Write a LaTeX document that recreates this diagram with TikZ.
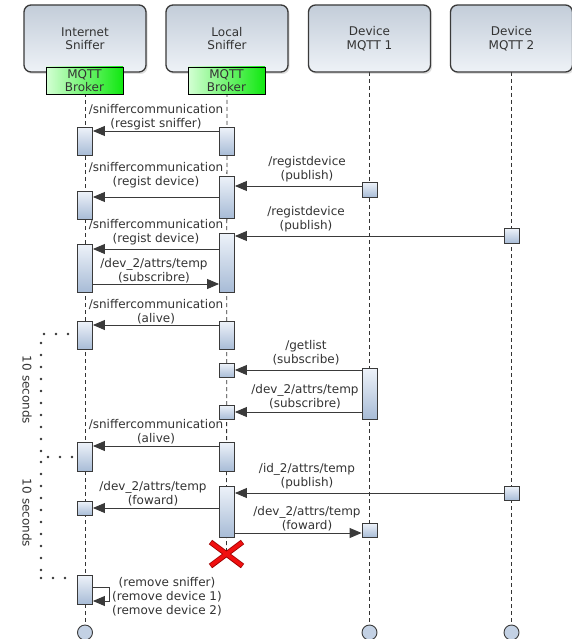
\documentclass[tikz,border=0pt]{standalone}
\usepackage{fontspec}
\setmainfont{DejaVu Sans}
\usetikzlibrary{arrows.meta,shadows}
\definecolor{hdtop}{HTML}{C3CDD9}
\definecolor{hdbot}{HTML}{EEF2F7}
\definecolor{grleft}{HTML}{D4FFD4}
\definecolor{grright}{HTML}{10E810}
\definecolor{acttop}{HTML}{EDF2F9}
\definecolor{actbot}{HTML}{A7BBD6}
\definecolor{ink}{HTML}{333333}
\definecolor{edge}{HTML}{3A3A3A}
\definecolor{killred}{HTML}{F01010}
\definecolor{killdark}{HTML}{A00000}
\tikzset{
  header/.style={draw=edge, line width=1.3pt, rounded corners=7pt,
    top color=hdtop, bottom color=hdbot, minimum width=122pt, minimum height=67pt,
    align=center, font=\fontsize{12}{13.5}\selectfont, text=ink,
    drop shadow={shadow xshift=1.5pt, shadow yshift=-2pt, opacity=0.25}},
  broker/.style={draw=black, line width=0.9pt, left color=grleft, right color=grright,
    minimum width=77pt, minimum height=27pt, inner sep=0pt, align=center,
    font=\fontsize{12}{13.5}\selectfont, text=ink},
  actbox/.style={draw=edge, line width=0.9pt, top color=acttop, bottom color=actbot,
    minimum width=15pt, inner sep=0pt, anchor=north},
  life/.style={draw=ink, line width=0.8pt, dash pattern=on 4pt off 3pt},
  msg/.style={draw=edge, line width=0.9pt, -{Triangle[length=12pt,width=10pt]}},
  lbl/.style={font=\fontsize{12}{14}\selectfont, text=ink, align=center, inner sep=0pt},
  endcirc/.style={circle, draw=edge, line width=0.9pt, fill=acttop!40!actbot, minimum size=15pt, inner sep=0pt},
  dots/.style={draw=ink, line width=2.6pt, line cap=round, dash pattern=on 0pt off 12pt},
}
\begin{document}
\begin{tikzpicture}[x=1pt,y=-1pt]
\useasboundingbox[fill=white] (0,0) rectangle (572,639);

% end circles and lifelines
\node[endcirc] (cI) at (85,632.5) {};
\node[endcirc] (cD1) at (369.5,632.5) {};
\node[endcirc] (cD2) at (511.5,632.5) {};
\coordinate (tI) at (85,72);
\coordinate (tL) at (227,72);
\coordinate (tD1) at (369.5,72);
\coordinate (tD2) at (511.5,72);
\coordinate (kill) at (226.5,554);
\draw[life] (tI) -- (cI.north);
\draw[life] (tL) -- (kill);
\draw[life] (tD1) -- (cD1.north);
\draw[life] (tD2) -- (cD2.north);

% headers
\node[header] (hI) at (85,38.5) {Internet\\Sniffer};
\node[header] (hL) at (227,38.5) {Local\\Sniffer};
\node[header] (hD1) at (369.5,38.5) {Device\\MQTT 1};
\node[header] (hD2) at (511.5,38.5) {Device\\MQTT 2};
\node[broker] (bI) at (84.5,80.5) {MQTT\\Broker};
\node[broker] (bL) at (226.5,80.5) {MQTT\\Broker};

% activation boxes: Internet
\node[actbox, minimum height=28pt] (I1) at (85,127) {};
\node[actbox, minimum height=28pt] (I2) at (85,191) {};
\node[actbox, minimum height=48pt] (I3) at (85,244) {};
\node[actbox, minimum height=28pt] (I4) at (85,321) {};
\node[actbox, minimum height=29pt] (I5) at (85,442) {};
\node[actbox, minimum height=14pt] (I6) at (85,501) {};
\node[actbox, minimum height=29pt] (I7) at (85,575) {};
% Local
\node[actbox, minimum height=28pt] (L1) at (227,127) {};
\node[actbox, minimum height=42pt] (L2) at (227,176) {};
\node[actbox, minimum height=59pt] (L3) at (227,233) {};
\node[actbox, minimum height=28pt] (L4) at (227,321) {};
\node[actbox, minimum height=14pt] (L5) at (227,363) {};
\node[actbox, minimum height=14pt] (L6) at (227,405) {};
\node[actbox, minimum height=29pt] (L7) at (227,442) {};
\node[actbox, minimum height=51pt] (L8) at (227,486) {};
% Device 1
\node[actbox, minimum height=15pt] (D1a) at (369.5,182) {};
\node[actbox, minimum height=51pt] (D1b) at (369.5,368) {};
\node[actbox, minimum height=14pt] (D1c) at (369.5,523) {};
% Device 2
\node[actbox, minimum height=15pt] (D2a) at (511.5,228) {};
\node[actbox, minimum height=14pt] (D2b) at (511.5,486) {};

% messages
\draw[msg] (L1.west |- 0,131) -- (I1.east |- 0,131);
\node[lbl] (m1) at (156,117) {/sniffercommunication\\(resgist sniffer)};
\draw[msg] (D1a.west |- 0,186) -- (L2.east |- 0,186);
\node[lbl] (m2) at (307,169) {/registdevice\\(publish)};
\draw[msg] (L2.west |- 0,197) -- (I2.east |- 0,197);
\node[lbl] (m3) at (156,175.5) {/sniffercommunication\\(regist device)};
\draw[msg] (D2a.west |- 0,236) -- (L3.east |- 0,236);
\node[lbl] (m4) at (306,219) {/registdevice\\(publish)};
\draw[msg] (L3.west |- 0,249) -- (I3.east |- 0,249);
\node[lbl] (m5) at (156,232.5) {/sniffercommunication\\(regist device)};
\draw[msg] (I3.east |- 0,284) -- (L3.west |- 0,284);
\node[lbl] (m6) at (154,270.5) {/dev\_2/attrs/temp\\(subscribre)};
\draw[msg] (L4.west |- 0,325) -- (I4.east |- 0,325);
\node[lbl] (m7) at (156,311.5) {/sniffercommunication\\(alive)};
\draw[msg] (D1b.west |- 0,370) -- (L5.east |- 0,370);
\node[lbl] (m8) at (306,353) {/getlist\\(subscribe)};
\draw[msg] (D1b.west |- 0,412) -- (L6.east |- 0,412);
\node[lbl] (m9) at (305,397) {/dev\_2/attrs/temp\\(subscribre)};
\draw[msg] (L7.west |- 0,446) -- (I5.east |- 0,446);
\node[lbl] (m10) at (156,432) {/sniffercommunication\\(alive)};
\draw[msg] (D2b.west |- 0,493) -- (L8.east |- 0,493);
\node[lbl] (m11) at (307,476.5) {/id\_2/attrs/temp\\(publish)};
\draw[msg] (L8.west |- 0,508) -- (I6.east |- 0,508);
\node[lbl] (m12) at (153,494) {/dev\_2/attrs/temp\\(foward)};
\draw[msg] (L8.east |- 0,533) -- (D1c.west |- 0,533);
\node[lbl] (m13) at (307,519) {/dev\_2/attrs/temp\\(foward)};
% self message
\draw[msg] (I7.east |- 0,587) -- (109,587) -- (109,601) -- (I7.east |- 0,601);
\node[lbl] (m14) at (167,597) {(remove sniffer)\\(remove device 1)\\(remove device 2)};

% destruction
\draw[killdark, line width=5.5pt] ([shift={(-16,-12)}]kill) -- ([shift={(16,12)}]kill)
  ([shift={(-16,12)}]kill) -- ([shift={(16,-12)}]kill);
\draw[killred, line width=3.8pt] ([shift={(-15.5,-11.5)}]kill) -- ([shift={(15.5,11.5)}]kill)
  ([shift={(-15.5,11.5)}]kill) -- ([shift={(15.5,-11.5)}]kill);

% 10 seconds brackets
\coordinate (b1) at (68,334);
\coordinate (b2) at (41,334);
\coordinate (b3) at (41,457);
\coordinate (b4) at (72,457);
\coordinate (b5) at (41,578);
\coordinate (b6) at (68,578);
\draw[dots] (b1) -- (b2) -- (b3);
\draw[dots] (b4) -- (b3) -- (b5);
\draw[dots] (b5) -- (b6);
\node[lbl, rotate=-90] (t1) at (27,390) {10 seconds};
\node[lbl, rotate=-90] (t2) at (27,513) {10 seconds};
\end{tikzpicture}
\end{document}
